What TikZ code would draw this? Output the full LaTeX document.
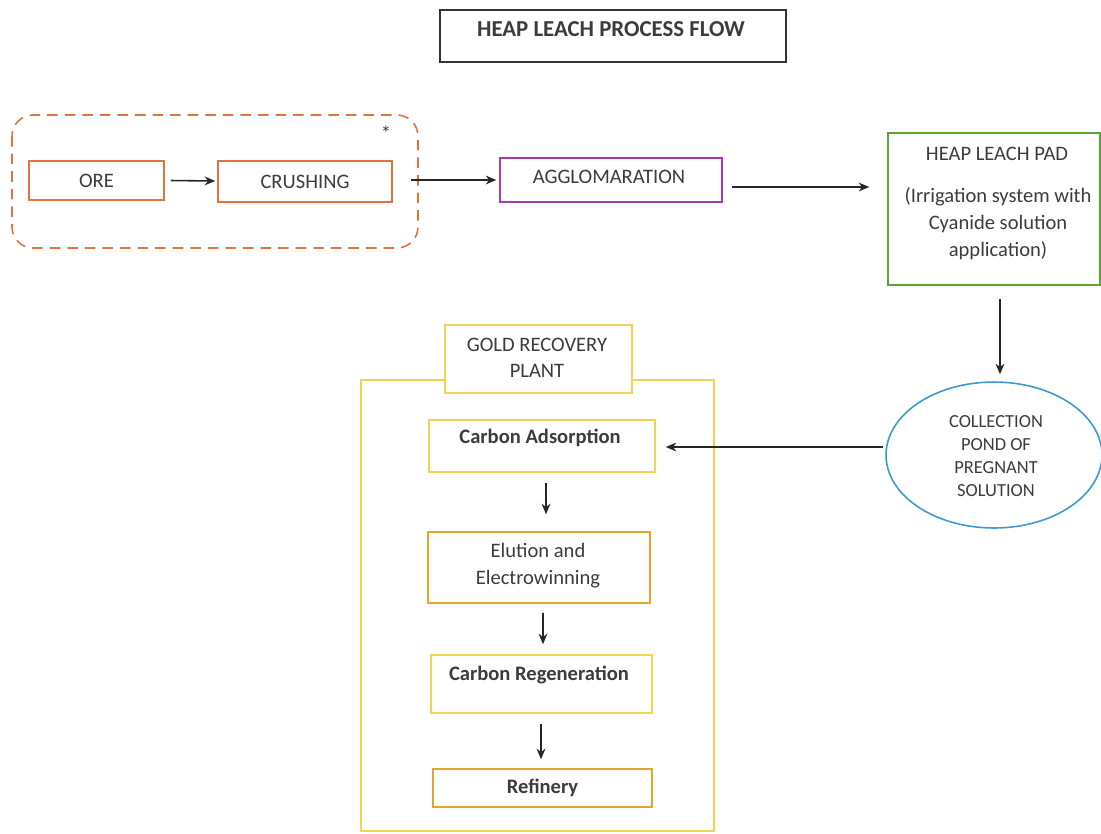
\documentclass[tikz,border=0pt]{standalone}
\usepackage{fontspec}
\setmainfont{Carlito}
\usetikzlibrary{shapes.geometric,arrows.meta,calc}
\definecolor{txtc}{HTML}{3C3C3C}
\definecolor{orng}{HTML}{E2723E}
\definecolor{purp}{HTML}{A83CA8}
\definecolor{grn}{HTML}{55A832}
\definecolor{blu}{HTML}{3A9AD0}
\definecolor{yel}{HTML}{F2D451}
\definecolor{gold}{HTML}{E3A62A}
\tikzset{
  box/.style={draw, rectangle, line width=0.9pt, inner sep=0pt},
  txt/.style={text=txtc, font=\fontsize{11.7}{13}\selectfont, align=center, inner sep=0pt},
  arr/.style={-{Stealth[length=6pt,width=5pt]}, line width=0.9pt, black!85},
}
\begin{document}
\begin{tikzpicture}[x=0.02cm,y=-0.02cm]
\useasboundingbox (0,0) rectangle (1101,833);
% title
\node[box, draw=black!80, minimum width=6.92cm, minimum height=1.04cm] (title) at (613,36) {};
\node[txt, font=\fontsize{13}{15}\selectfont\bfseries] (titletxt) at (611,29) {HEAP LEACH PROCESS FLOW};
% dashed group
\draw[orng, dashed, dash pattern=on 6pt off 4pt, line width=0.9pt, rounded corners=12pt] (12,115) rectangle (418,248);
\node[txt] (star) at (386,133) {*};
% boxes
\node[box, draw=orng, txt, minimum width=2.70cm, minimum height=0.78cm] (ore) at (96.5,180.5) {ORE};
\node[box, draw=orng, txt, minimum width=3.48cm, minimum height=0.82cm] (crush) at (305,181.5) {CRUSHING};
\node[box, draw=purp, minimum width=4.44cm, minimum height=0.88cm] (agg) at (611,180) {};
\node[txt] (aggtxt) at (609,177) {AGGLOMARATION};
\node[box, draw=grn, minimum width=4.24cm, minimum height=3.04cm] (pad) at (994,209) {};
\node[txt] (padt1) at (997,154) {HEAP LEACH PAD};
\node[txt, font=\fontsize{11.7}{15.3}\selectfont] (padt2) at (998,223.5) {(Irrigation system with\\Cyanide solution\\application)};
\node[ellipse, draw=blu, line width=0.9pt, minimum width=4.32cm, minimum height=2.92cm, inner sep=0pt] (pond) at (994,455) {};
\node[txt, font=\fontsize{10.5}{13.1}\selectfont] (pondtxt) at (996,456) {COLLECTION\\POND OF\\PREGNANT\\SOLUTION};
% gold recovery plant
\node[box, draw=yel, minimum width=7.06cm, minimum height=9.02cm] (plant) at (537.5,605.5) {};
\node[box, draw=yel, fill=white, minimum width=3.74cm, minimum height=1.36cm] (planttitle) at (538.5,359) {};
\node[txt, font=\fontsize{11.7}{14.8}\selectfont] (planttxt) at (537,358) {GOLD RECOVERY\\PLANT};
\node[box, draw=yel, minimum width=4.52cm, minimum height=1.04cm] (ca) at (542,446) {};
\node[txt, font=\fontsize{11.7}{13}\selectfont\bfseries] (catxt) at (540,438) {Carbon Adsorption};
\node[box, draw=gold, minimum width=4.44cm, minimum height=1.42cm] (el) at (539,567.5) {};
\node[txt, font=\fontsize{11.7}{15.3}\selectfont] (eltxt) at (538,565.5) {Elution and\\Electrowinning};
\node[box, draw=yel, minimum width=4.42cm, minimum height=1.16cm] (cr) at (541.5,684) {};
\node[txt, font=\fontsize{11.7}{13}\selectfont\bfseries] (crtxt) at (539,675) {Carbon Regeneration};
\node[box, draw=gold, txt, font=\fontsize{11.7}{13}\selectfont\bfseries, minimum width=4.38cm, minimum height=0.76cm] (ref) at (542.5,788) {Refinery};
% arrows
\draw[arr] ([shift={(6,0)}]ore.east) -- ([shift={(-2,-0.5)}]crush.west);
\draw[arr] ([shift={(18,-1.5)}]crush.east) -- ([shift={(-3,0)}]agg.west);
\draw[arr] ([shift={(9,7)}]agg.east) -- ([shift={(-18,-22)}]pad.west);
\draw[arr] ([shift={(6,13)}]pad.south) -- ([shift={(6,-7)}]pond.north);
\draw[arr] ([shift={(-2,-8)}]pond.west) -- ([shift={(10,1)}]ca.east);
\draw[arr] ([shift={(4,10)}]ca.south) -- ([shift={(7,-17)}]el.north);
\draw[arr] ([shift={(4,9)}]el.south) -- ([shift={(1.5,-10)}]cr.north);
\draw[arr] ([shift={(-0.5,10)}]cr.south) -- ([shift={(-1.5,-9)}]ref.north);
\end{tikzpicture}
\end{document}
